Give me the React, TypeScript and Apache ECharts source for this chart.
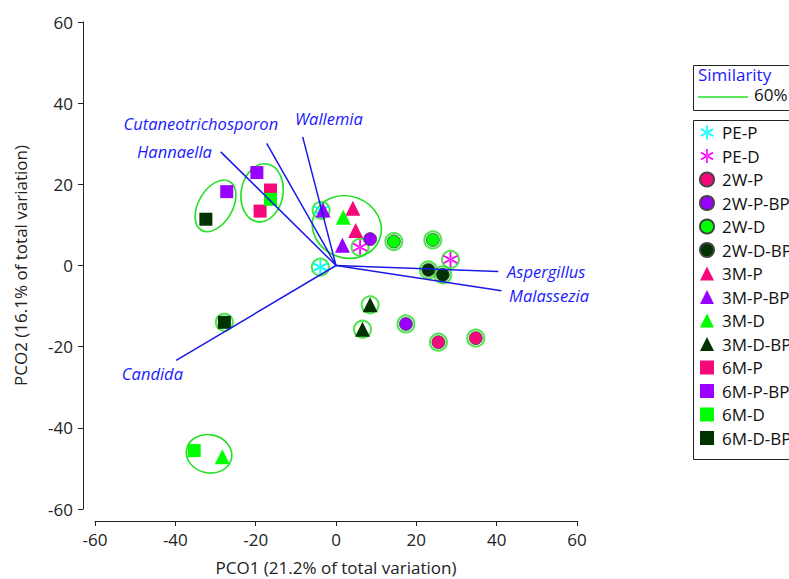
import React, { useEffect, useRef } from "react";
import * as echarts from "echarts";

// ---- data ----
const seriesNames = [
  "PE-P", "PE-D", "2W-P", "2W-P-BP", "2W-D", "2W-D-BP",
  "3M-P", "3M-P-BP", "3M-D", "3M-D-BP", "6M-P", "6M-P-BP", "6M-D", "6M-D-BP",
];
const pointsPEP = [[-3.7, 13.6], [-3.9, -0.4]];
const pointsPED = [[6.0, 4.5], [28.5, 1.5]];
const points2WP = [[25.5, -18.9], [34.8, -17.9]];
const points2WPBP = [[8.5, 6.5], [17.4, -14.4]];
const points2WD = [[14.4, 5.9], [24.1, 6.3]];
const points2WDBP = [[23.0, -1.1], [26.6, -2.3]];
const points3MP = [[4.2, 14.1], [4.9, 8.6]];
const points3MPBP = [[-3.2, 13.7], [1.6, 5.0]];
const points3MD = [[1.8, 11.9], [-28.3, -47.1]];
const points3MDBP = [[8.5, -9.7], [6.6, -15.7]];
const points6MP = [[-16.3, 18.6], [-18.9, 13.4]];
const points6MPBP = [[-27.2, 18.2], [-19.7, 22.9]];
const points6MD = [[-16.3, 16.3], [-35.3, -45.6]];
const points6MDBP = [[-32.4, 11.4], [-27.8, -14.0]];
const allPoints = [
  pointsPEP, pointsPED, points2WP, points2WPBP, points2WD, points2WDBP,
  points3MP, points3MPBP, points3MD, points3MDBP, points6MP, points6MPBP, points6MD, points6MDBP,
];

// samples enclosed by their own 60% similarity ring: [series index, point index]
const ringed = [
  [0, 0], [0, 1], [1, 0], [1, 1], [2, 0], [2, 1], [3, 1], [4, 0], [4, 1],
  [5, 0], [5, 1], [9, 0], [9, 1], [13, 1],
];

// 60% similarity cluster outlines: centre x, centre y, half-width, half-height (data units), tilt (deg)
const clusterCx = [2.7, -30.0, -18.4, -31.6];
const clusterCy = [9.5, 14.7, 17.9, -46.4];
const clusterRx = [8.7, 7.0, 5.2, 5.7];
const clusterRy = [7.6, 4.2, 7.2, 4.7];
const clusterTilt = [-20, 60, -10, -12];

// vector overlay
const vectorNames = ["Cutaneotrichosporon", "Wallemia", "Hannaella", "Aspergillus", "Malassezia", "Candida"];
const vectorX = [-17.25, -8.3, -28.7, 40.4, 41.2, -39.8];
const vectorY = [30.1, 31.7, 28.0, -1.5, -6.2, -23.4];
const vectorLabelX = [-14.4, -10.2, -30.9, 42.6, 43.1, -38.1];
const vectorLabelY = [35.1, 36.1, 28.2, -1.4, -7.3, -26.7];
const vectorLabelAlign = ["right", "left", "right", "left", "left", "right"];

const axisMin = -60;
const axisMax = 60;
const axisStep = 20;

// ---- styles ----
const FONT = "'Open Sans'";
const ringGreen = "#22e022";
const blue = "#1a1ae8";
const asterisk =
  "path://M44,0L56,0L56,100L44,100Z M96.3,30.2L90.3,19.8L3.7,69.8L9.7,80.2Z M9.7,19.8L3.7,30.2L90.3,80.2L96.3,69.8Z";
const colors = [
  "#00ffff", "#ff00ff", "#f5087a", "#9900ff", "#00ff00", "#003300",
  "#f5087a", "#9900ff", "#00ff00", "#003300", "#f5087a", "#9900ff", "#00ff00", "#003300",
];
const symbolFor = (i: number) =>
  i < 2 ? asterisk : i < 6 ? "circle" : i < 10 ? "triangle" : "rect";
const sizeFor = (i: number) => (i < 2 ? 15 : i < 6 ? 13 : i < 10 ? 15 : 13);

export default function App() {
  const ref = useRef<HTMLDivElement>(null);
  useEffect(() => {
    if (!ref.current) return;
    const chart = echarts.init(ref.current, null, { renderer: "svg" });

    const scatterSeries = seriesNames.map((name, i) => ({
      name,
      type: "scatter",
      data: allPoints[i],
      symbol: symbolFor(i),
      symbolSize: sizeFor(i),
      z: 3,
      itemStyle: {
        color: colors[i],
        opacity: 1,
        borderColor: i >= 2 && i < 6 ? "#444" : colors[i],
        borderWidth: i >= 2 && i < 6 ? 0.8 : 0,
      },
      emphasis: { disabled: true },
    }));

    const ringData = ringed.map(([s, p]) => allPoints[s][p]);

    const axisCommon = {
      type: "value",
      min: axisMin,
      max: axisMax,
      interval: axisStep,
      offset: 12,
      nameLocation: "middle",
      nameTextStyle: { fontFamily: FONT, fontSize: 17, color: "#222" },
      axisLine: { show: true, onZero: false, lineStyle: { color: "#222", width: 1 } },
      axisTick: { show: true, length: 5, lineStyle: { color: "#222" } },
      axisLabel: { fontFamily: FONT, fontSize: 17, color: "#222", margin: 10 },
      splitLine: { show: false },
    };

    chart.setOption({
      animation: false,
      backgroundColor: "#fff",
      grid: { left: 95, right: 212, top: 22, bottom: 70, containLabel: false, outerBoundsMode: "none" },
      xAxis: { ...axisCommon, name: "PCO1 (21.2% of total variation)", nameGap: 38 },
      yAxis: { ...axisCommon, name: "PCO2 (16.1% of total variation)", nameGap: 54 },
      legend: {
        data: seriesNames,
        orient: "vertical",
        left: 699,
        top: 124,
        padding: 0,
        itemWidth: 14,
        itemHeight: 14,
        itemGap: 6.5,
        selectedMode: false,
        textStyle: { fontFamily: FONT, fontSize: 17, color: "#111", padding: [0, 0, 0, 3] },
      },
      graphic: [
        { type: "rect", left: 691, top: 63, shape: { width: 120, height: 45 }, style: { fill: "none", stroke: "#222", lineWidth: 1 } },
        { type: "rect", left: 691, top: 118, shape: { width: 120, height: 339 }, style: { fill: "none", stroke: "#222", lineWidth: 1 } },
        { type: "text", left: 698, top: 66, style: { text: "Similarity", fill: "#1a1aff", font: `17px ${FONT}` } },
        { type: "line", shape: { x1: 698, y1: 97, x2: 748, y2: 97 }, style: { stroke: ringGreen, lineWidth: 1.5 } },
        { type: "text", left: 754, top: 86, style: { text: "60%", fill: "#111", font: `17px ${FONT}` } },
      ],
      series: [
        {
          name: "clusters",
          type: "custom",
          coordinateSystem: "cartesian2d",
          silent: true,
          z: 1,
          data: clusterCx.map((cx, i) => [cx, clusterCy[i]]),
          renderItem: (params: any, api: any) => {
            const i = params.dataIndex;
            const c = api.coord([clusterCx[i], clusterCy[i]]);
            const s = api.size([clusterRx[i], clusterRy[i]]);
            return {
              type: "ellipse",
              x: c[0],
              y: c[1],
              rotation: (clusterTilt[i] * Math.PI) / 180,
              shape: { cx: 0, cy: 0, rx: s[0], ry: s[1] },
              style: { fill: "none", stroke: ringGreen, lineWidth: 1.6 },
            };
          },
        },
        {
          name: "rings",
          type: "scatter",
          data: ringData,
          symbol: "circle",
          symbolSize: 17,
          silent: true,
          z: 2,
          itemStyle: { color: "rgba(255,255,255,0)", borderColor: ringGreen, borderWidth: 2 },
        },
        ...scatterSeries,
        {
          name: "vectors",
          type: "custom",
          coordinateSystem: "cartesian2d",
          silent: true,
          z: 5,
          data: vectorX.map((x, i) => [x, vectorY[i]]),
          renderItem: (params: any, api: any) => {
            const i = params.dataIndex;
            const o = api.coord([0, 0]);
            const e = api.coord([vectorX[i], vectorY[i]]);
            const l = api.coord([vectorLabelX[i], vectorLabelY[i]]);
            return {
              type: "group",
              children: [
                { type: "line", shape: { x1: o[0], y1: o[1], x2: e[0], y2: e[1] }, style: { stroke: blue, lineWidth: 1.5 } },
                {
                  type: "text",
                  x: l[0],
                  y: l[1],
                  style: {
                    text: vectorNames[i],
                    fill: "#1a1aff",
                    font: `italic 16.5px ${FONT}`,
                    align: vectorLabelAlign[i],
                    verticalAlign: "middle",
                    textAlign: vectorLabelAlign[i],
                    textVerticalAlign: "middle",
                  },
                },
              ],
            };
          },
        },
      ],
    });
    return () => chart.dispose();
  }, []);
  return (
    <div
      ref={ref}
      style={{ position: "fixed", left: 0, top: 0, width: 789, height: 579, background: "#fff" }}
    />
  );
}
